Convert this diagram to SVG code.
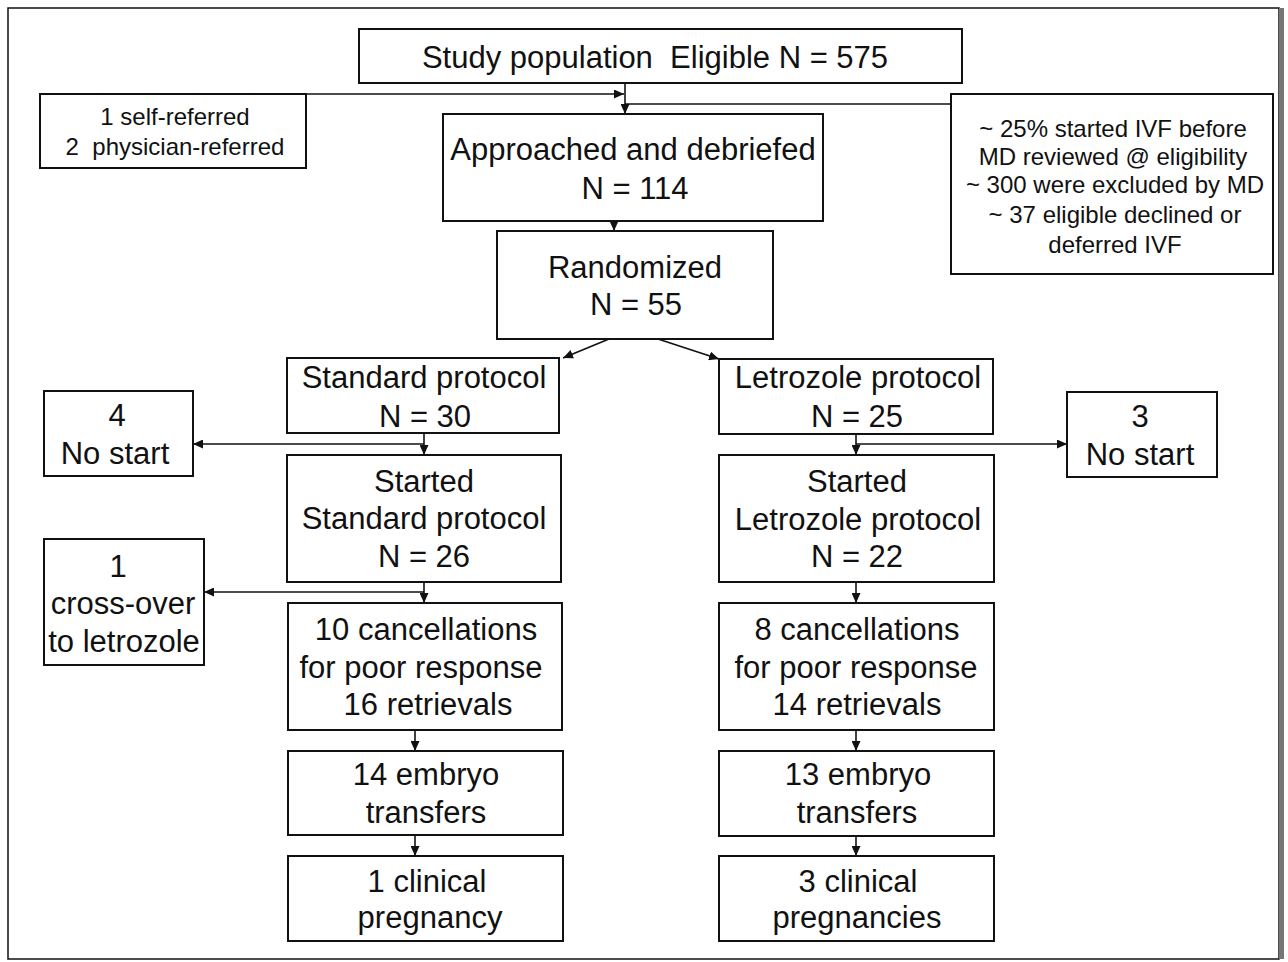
<svg xmlns="http://www.w3.org/2000/svg" width="1288" height="962" viewBox="0 0 1288 962">
<defs>
<marker id="ah" markerUnits="userSpaceOnUse" markerWidth="10" markerHeight="9" refX="10" refY="4.5" orient="auto"><path d="M0,0 L10,4.5 L0,9 z" fill="#111"/></marker>
<style>
.box{fill:#fff;stroke:#111;stroke-width:2}
.t{font-family:"Liberation Sans",Arial,Helvetica,sans-serif;font-size:31px;fill:#111;text-anchor:middle}
.s{font-size:24px}
.c{fill:none;stroke:#111;stroke-width:1.6}
.a{marker-end:url(#ah)}
</style>
</defs>
<rect width="1288" height="962" fill="#fff"/>
<rect x="8" y="8" width="1271" height="951" fill="none" stroke="#111" stroke-width="1.5"/>
<rect x="1279" y="8" width="5" height="951" fill="#777"/>

<g id="connectors">
<path class="c a" d="M625,83 V114"/>
<path class="c a" d="M306,94 H624"/>
<path class="c" d="M625,104 H951"/>
<path class="c a" d="M614,221 V231"/>
<path class="c a" d="M609,339 L563,358"/>
<path class="c a" d="M658,339 L719,359"/>
<path class="c a" d="M424,433 V455"/>
<path class="c a" d="M424,444 H193"/>
<path class="c a" d="M856,434 V455"/>
<path class="c a" d="M856,444 H1067"/>
<path class="c a" d="M424,582 V603"/>
<path class="c a" d="M424,592 H204"/>
<path class="c a" d="M856,582 V603"/>
<path class="c a" d="M415,730 V751"/>
<path class="c a" d="M415,835 V856"/>
<path class="c a" d="M856,730 V751"/>
<path class="c a" d="M856,836 V856"/>
</g>

<g id="study"><rect class="box" x="359" y="29" width="603" height="54"/>
<text class="t" x="655" y="68" xml:space="preserve">Study population  Eligible N = 575</text></g>

<g id="referred"><rect class="box" x="40" y="94" width="266" height="74"/>
<text class="t s" x="175" y="125">1 self-referred</text>
<text class="t s" x="175" y="155" xml:space="preserve">2  physician-referred</text></g>

<g id="excluded"><rect class="box" x="951" y="94" width="322" height="180"/>
<text class="t s" x="1113" y="137">~ 25% started IVF before</text>
<text class="t s" x="1113" y="165">MD reviewed @ eligibility</text>
<text class="t s" x="1115" y="193">~ 300 were excluded by MD</text>
<text class="t s" x="1115" y="223">~ 37 eligible declined or</text>
<text class="t s" x="1115" y="253">deferred IVF</text></g>

<g id="approached"><rect class="box" x="443" y="114" width="380" height="107"/>
<text class="t" x="633" y="160">Approached and debriefed</text>
<text class="t" x="635" y="199">N = 114</text></g>

<g id="randomized"><rect class="box" x="497" y="231" width="276" height="108"/>
<text class="t" x="635" y="278">Randomized</text>
<text class="t" x="636" y="315">N = 55</text></g>

<g id="std"><rect class="box" x="287" y="358" width="272" height="75"/>
<text class="t" x="424" y="388">Standard protocol</text>
<text class="t" x="425" y="427">N = 30</text></g>

<g id="let"><rect class="box" x="719" y="359" width="274" height="75"/>
<text class="t" x="858" y="388">Letrozole protocol</text>
<text class="t" x="857" y="427">N = 25</text></g>

<g id="nostart4"><rect class="box" x="44" y="391" width="149" height="85"/>
<text class="t" x="117" y="426">4</text>
<text class="t" x="115" y="464">No start</text></g>

<g id="nostart3"><rect class="box" x="1067" y="392" width="150" height="85"/>
<text class="t" x="1140" y="427">3</text>
<text class="t" x="1140" y="465">No start</text></g>

<g id="startedStd"><rect class="box" x="287" y="455" width="274" height="127"/>
<text class="t" x="424" y="492">Started</text>
<text class="t" x="424" y="529">Standard protocol</text>
<text class="t" x="424" y="567">N = 26</text></g>

<g id="startedLet"><rect class="box" x="719" y="455" width="275" height="127"/>
<text class="t" x="857" y="492">Started</text>
<text class="t" x="858" y="530">Letrozole protocol</text>
<text class="t" x="857" y="567">N = 22</text></g>

<g id="crossover"><rect class="box" x="44" y="539" width="160" height="126"/>
<text class="t" x="118" y="577">1</text>
<text class="t" x="123" y="614">cross-over</text>
<text class="t" x="124" y="652">to letrozole</text></g>

<g id="canc10"><rect class="box" x="288" y="603" width="274" height="127"/>
<text class="t" x="426" y="640">10 cancellations</text>
<text class="t" x="421" y="678">for poor response</text>
<text class="t" x="428" y="715">16 retrievals</text></g>

<g id="canc8"><rect class="box" x="719" y="603" width="275" height="127"/>
<text class="t" x="857" y="640">8 cancellations</text>
<text class="t" x="856" y="678">for poor response</text>
<text class="t" x="857" y="715">14 retrievals</text></g>

<g id="emb14"><rect class="box" x="288" y="751" width="275" height="84"/>
<text class="t" x="426" y="785">14 embryo</text>
<text class="t" x="426" y="823">transfers</text></g>

<g id="emb13"><rect class="box" x="719" y="751" width="275" height="85"/>
<text class="t" x="858" y="785">13 embryo</text>
<text class="t" x="857" y="823">transfers</text></g>

<g id="preg1"><rect class="box" x="288" y="856" width="275" height="85"/>
<text class="t" x="427" y="892">1 clinical</text>
<text class="t" x="430" y="928">pregnancy</text></g>

<g id="preg3"><rect class="box" x="719" y="856" width="275" height="85"/>
<text class="t" x="858" y="892">3 clinical</text>
<text class="t" x="857" y="928">pregnancies</text></g>
</svg>
